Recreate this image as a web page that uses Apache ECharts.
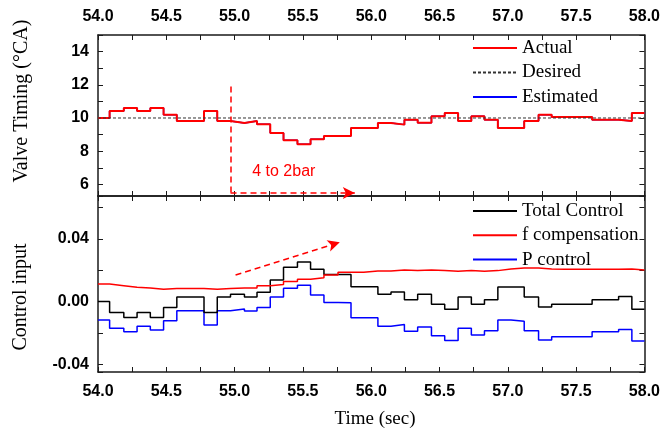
<!DOCTYPE html>
<html>
<head>
<meta charset="utf-8">
<script src="https://cdn.jsdelivr.net/npm/echarts@6/dist/echarts.min.js"></script>
<style>html,body{margin:0;padding:0;background:#fff;}#c{width:663px;height:431px;}</style>
</head>
<body>
<div id="c"></div>
<script>
// ---- data ----
const times = [54.0, 54.085, 54.189, 54.286, 54.383, 54.48, 54.577, 54.674, 54.776, 54.873,
  54.97, 55.072, 55.164, 55.261, 55.358, 55.46, 55.556, 55.654, 55.757, 55.852,
  55.945, 56.049, 56.145, 56.243, 56.34, 56.441, 56.538, 56.636, 56.733, 56.829,
  56.927, 57.023, 57.12, 57.225, 57.321, 57.418, 57.515, 57.617, 57.714, 57.811, 57.908];
const endTime = 58.0;
const actual = [10.0, 10.42, 10.6, 10.42, 10.6, 10.2, 9.82, 9.82, 10.42, 9.82,
  9.7, 9.82, 9.62, 9.1, 8.66, 8.42, 8.72, 8.92, 8.92, 9.4,
  9.4, 9.7, 9.6, 9.9, 9.72, 10.1, 10.3, 9.82, 10.1, 9.9,
  9.4, 9.4, 9.82, 10.2, 10.06, 10.06, 10.06, 9.9, 9.9, 9.82, 10.3];
const estimated = actual.slice();
const desiredValue = 10;
const fComp = [0.0112, 0.0102, 0.0092, 0.0087, 0.0079, 0.0083, 0.0083, 0.0083, 0.0079, 0.0083,
  0.0087, 0.0087, 0.0102, 0.011, 0.0128, 0.0143, 0.0153, 0.017, 0.0187, 0.0187,
  0.0196, 0.0196, 0.0202, 0.0198, 0.0202, 0.0198, 0.0194, 0.0198, 0.0194, 0.0198,
  0.0208, 0.0215, 0.0215, 0.0208, 0.0206, 0.0206, 0.0206, 0.0206, 0.0206, 0.0209, 0.0202];
const totalCtrl = [0.0, -0.0069, -0.0101, -0.0069, -0.0101, -0.0037, 0.003, 0.003, -0.0069, 0.003,
  0.0047, 0.003, 0.006, 0.0138, 0.022, 0.0253, 0.0206, 0.0174, 0.0174, 0.0095,
  0.0095, 0.0047, 0.0061, 0.0012, 0.0047, -0.0017, -0.0049, 0.003, -0.0017, 0.0012,
  0.0093, 0.0093, 0.003, -0.0035, -0.0017, -0.0017, -0.0017, 0.0012, 0.0012, 0.0032, -0.0049];
const pCtrl = [-0.0118, -0.0171, -0.0193, -0.0157, -0.0182, -0.0122, -0.0058, -0.0058, -0.015, -0.0058,
  -0.0047, -0.006, -0.0037, 0.003, 0.0085, 0.0104, 0.0042, -0.0005, -0.0007, -0.0104,
  -0.0104, -0.0157, -0.0146, -0.0189, -0.0162, -0.0219, -0.0249, -0.0171, -0.0214, -0.0187,
  -0.0118, -0.0125, -0.0187, -0.0246, -0.0225, -0.0225, -0.0225, -0.0193, -0.0193, -0.0178, -0.0252];
// annotations (data coordinates)
const stepLineTop = [[54.97, 11.9], [54.97, 5.48]];
const stepArrowTop = [[54.97, 5.48], [55.88, 5.48]];
const stepText = '4 to 2bar';
const stepTextAt = [55.36, 6.75];
const trendArrow = [[55.007, 0.017], [55.77, 0.0379]];

function stepData(vals) {
  const d = times.map((t, i) => [t, vals[i]]);
  d.push([endTime, vals[vals.length - 1]]);
  return d;
}

const chart = echarts.init(document.getElementById('c'), null, {renderer: 'canvas'});
const AX = '#1a1a1a';
const tickFont = {fontFamily: 'Liberation Sans', fontWeight: 'bold', fontSize: 16, color: '#000'};
const xFmt = v => (Math.abs(v * 2 - Math.round(v * 2)) < 1e-6) ? v.toFixed(1) : '';
function xAx(grid, pos, labels) {
  return {
    type: 'value', gridIndex: grid, position: pos, min: 54, max: 58, interval: 0.25,
    axisLine: {show: true, onZero: false, lineStyle: {color: AX, width: 1.5}},
    axisTick: {show: true, inside: true, length: 5, lineStyle: {color: AX, width: 1}},
    axisLabel: Object.assign({show: labels, margin: pos === 'top' ? 10 : 12, formatter: xFmt}, tickFont),
    splitLine: {show: false}
  };
}
const topFmt = v => {
  const r = Math.round(v);
  return (Math.abs(v - r) < 1e-6 && r % 2 === 0) ? String(r) : '';
};
const botFmt = v => {
  const k = v / 0.04;
  if (Math.abs(k - Math.round(k)) < 1e-6) { const s = (Math.round(k) * 0.04).toFixed(2); return s === '-0.00' ? '0.00' : s; }
  return '';
};
function yAx(grid, pos, labels, min, max, iv, fmt) {
  return {
    type: 'value', gridIndex: grid, position: pos, min: min, max: max,
    minInterval: iv, maxInterval: iv,
    axisLine: {show: true, onZero: false, lineStyle: {color: AX, width: 1.5}},
    axisTick: {show: true, inside: true, length: 5, lineStyle: {color: AX, width: 1}},
    axisLabel: Object.assign({show: labels, margin: 9, formatter: fmt}, tickFont),
    splitLine: {show: false}
  };
}
const legendText = {fontFamily: 'Liberation Serif', fontSize: 19, lineHeight: 20, color: '#000'};
const dashRed = {color: '#ff0000', width: 1.5, type: [6, 4]};
const option = {
  animation: false,
  backgroundColor: '#fff',
  grid: [
    {left: 98, top: 35, width: 550, height: 161},
    {left: 98, top: 196, width: 550, height: 176}
  ],
  xAxis: [xAx(0, 'top', true), xAx(0, 'bottom', false), xAx(1, 'top', false), xAx(1, 'bottom', true)],
  yAxis: [
    yAx(0, 'left', true, 5.3, 15, 1, topFmt), yAx(0, 'right', false, 5.3, 15, 1, topFmt),
    yAx(1, 'left', true, -0.045, 0.0675, 0.02, botFmt), yAx(1, 'right', false, -0.045, 0.0675, 0.02, botFmt)
  ],
  legend: [
    {data: ['Actual', 'Desired', 'Estimated'], orient: 'vertical', left: 467, top: 33, itemWidth: 44, itemHeight: 14,
     itemGap: 4.5, selectedMode: false, itemStyle: {opacity: 0}, textStyle: legendText},
    {data: ['Total Control', 'f compensation', 'P control'], orient: 'vertical', left: 467, top: 196, itemWidth: 44, itemHeight: 14,
     itemGap: 4.3, selectedMode: false, itemStyle: {opacity: 0}, textStyle: legendText}
  ],
  graphic: [
    {type: 'text', x: 22, y: 101, rotation: Math.PI / 2,
     style: {text: 'Valve Timing (°CA)', font: '20px "Liberation Serif"', fill: '#000', textAlign: 'center', textVerticalAlign: 'middle', align: 'center', verticalAlign: 'middle'}},
    {type: 'text', x: 21, y: 297, rotation: Math.PI / 2,
     style: {text: 'Control input', font: '20px "Liberation Serif"', fill: '#000', textAlign: 'center', textVerticalAlign: 'middle', align: 'center', verticalAlign: 'middle'}},
    {type: 'text', x: 375, y: 419,
     style: {text: 'Time (sec)', font: '19px "Liberation Serif"', fill: '#000', textAlign: 'center', textVerticalAlign: 'middle', align: 'center', verticalAlign: 'middle'}}
  ],
  series: [
    {name: 'Estimated', type: 'line', xAxisIndex: 0, yAxisIndex: 0, step: 'end', symbol: 'none', showSymbol: false,
     data: stepData(estimated), lineStyle: {color: '#0000ff', width: 1.5}, itemStyle: {color: '#0000ff'}, z: 2},
    {name: 'Actual', type: 'line', xAxisIndex: 0, yAxisIndex: 0, step: 'end', symbol: 'none', showSymbol: false,
     data: stepData(actual), lineStyle: {color: '#ff0000', width: 2}, itemStyle: {color: '#ff0000'}, z: 3},
    {name: 'Desired', type: 'line', xAxisIndex: 0, yAxisIndex: 0, symbol: 'none', showSymbol: false,
     data: [[times[0], desiredValue], [endTime, desiredValue]],
     lineStyle: {color: '#333', width: 1, type: [3, 2]}, itemStyle: {color: '#333'}, z: 4,
     markLine: {silent: true, animation: false, label: {show: false}, lineStyle: dashRed, symbolSize: [9, 12],
       data: [
         [{coord: stepLineTop[0], symbol: 'none'}, {coord: stepLineTop[1], symbol: 'none'}],
         [{coord: stepArrowTop[0], symbol: 'none'}, {coord: stepArrowTop[1], symbol: 'arrow'}]
       ]},
     markPoint: {silent: true, animation: false, data: [{coord: stepTextAt, symbol: 'circle', symbolSize: 0,
       label: {show: true, position: 'inside', formatter: stepText, color: '#ff0000', fontFamily: 'Liberation Sans', fontSize: 16}}]}
    },
    {name: 'P control', type: 'line', xAxisIndex: 3, yAxisIndex: 2, step: 'end', symbol: 'none', showSymbol: false,
     data: stepData(pCtrl), lineStyle: {color: '#0000ff', width: 1.5}, itemStyle: {color: '#0000ff'}, z: 2},
    {name: 'Total Control', type: 'line', xAxisIndex: 3, yAxisIndex: 2, step: 'end', symbol: 'none', showSymbol: false,
     data: stepData(totalCtrl), lineStyle: {color: '#000', width: 1.5}, itemStyle: {color: '#000'}, z: 3},
    {name: 'f compensation', type: 'line', xAxisIndex: 3, yAxisIndex: 2, step: 'end', symbol: 'none', showSymbol: false,
     data: stepData(fComp), lineStyle: {color: '#ff0000', width: 1.5}, itemStyle: {color: '#ff0000'}, z: 4,
     markLine: {silent: true, animation: false, label: {show: false}, lineStyle: dashRed, symbolSize: [9, 12],
       data: [[{coord: trendArrow[0], symbol: 'none'}, {coord: trendArrow[1], symbol: 'arrow'}]]}
    }
  ]
};
chart.setOption(option);
</script>
</body>
</html>
